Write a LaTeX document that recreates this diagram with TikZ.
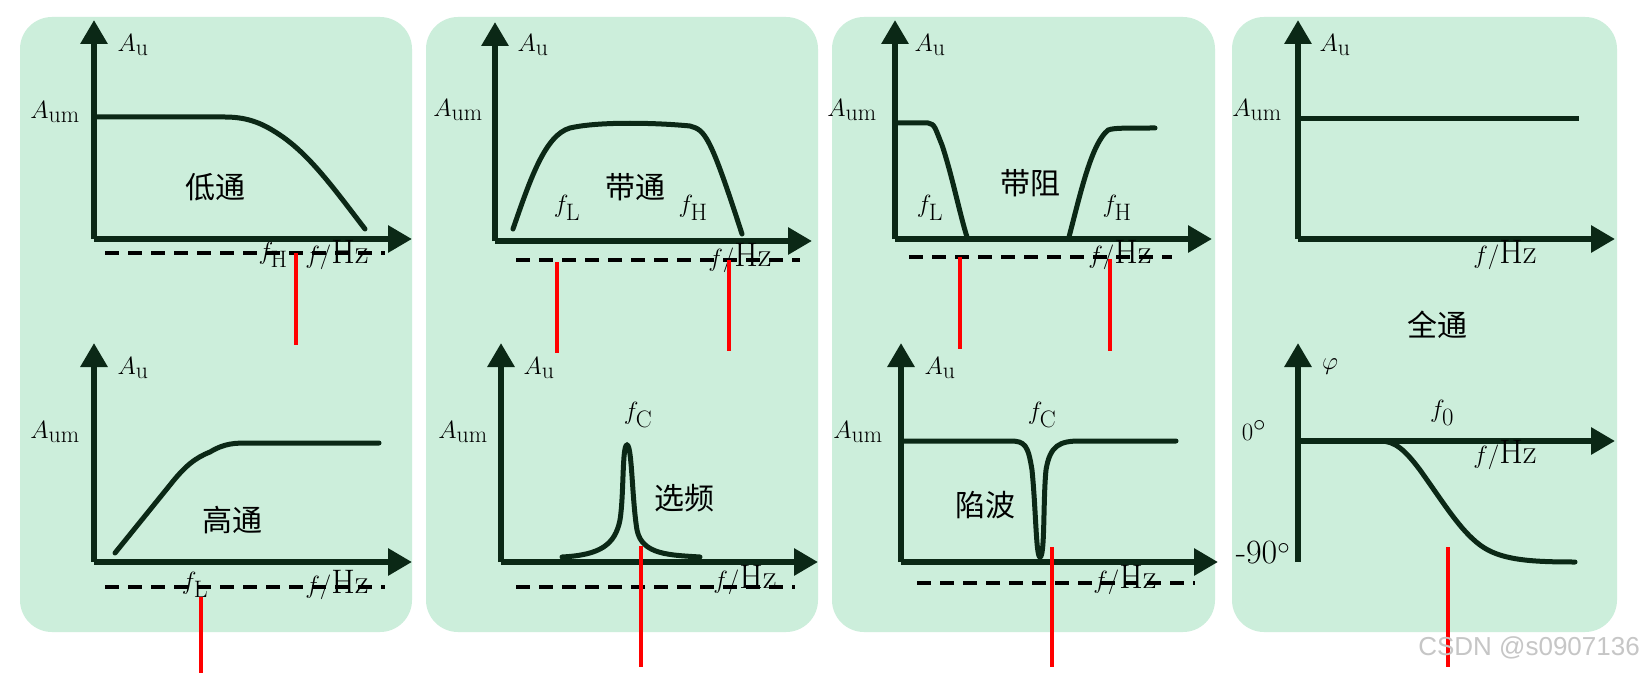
\documentclass[tikz,border=0pt]{standalone}
\usepackage{fontspec}
\newfontfamily\cjk{Noto Sans CJK SC}
\usetikzlibrary{arrows.meta}
\definecolor{pan}{HTML}{CCEEDB}
\definecolor{ink}{HTML}{0B2816}
\begin{document}
\begin{tikzpicture}[x=1pt,y=-1pt,
 panel/.style={fill=pan,draw=none,rounded corners=32pt},
 ax/.style={ink,line width=6pt,-{Triangle[length=24pt,width=26pt]}},
 cur/.style={ink,line width=5pt,line cap=round},
 dsh/.style={black,line width=3.5pt,dash pattern=on 14pt off 9pt},
 rl/.style={red,line width=3.5pt},
 lab/.style={inner sep=0pt,font=\fontsize{34}{36}\selectfont},
 cn/.style={inner sep=0pt,font=\cjk\fontsize{30}{32}\selectfont}]
\useasboundingbox (0,0) rectangle (1644,674);
\fill[white] (0,0) rectangle (1644,674);
\path[panel] (20,17) rectangle (412,632);
\path[panel] (426,17) rectangle (818,632);
\path[panel] (832,17) rectangle (1215,632);
\path[panel] (1232,17) rectangle (1617,632);
% panel 1 top
\coordinate (o1) at (94,239);
\draw[ax] (o1) -- (94,20);
\draw[ax] (o1) -- (412,239);
\draw[cur] (94,117) -- (225,117) .. controls (250,117) and (265,125) .. (280,135) .. controls (310,155) and (335,190) .. (365,229);
\draw[dsh] (105,253) -- (385,253);
\node[lab] at (133,45) {$A_{\mathrm{u}}$};
\node[lab] at (55,112) {$A_{\mathrm{um}}$};
\node[cn] at (215,187) {低通};
\node[lab] at (273,255) {$f_{\mathrm{H}}$};
\node[lab] at (337,255) {$f/\mathrm{Hz}$};
\draw[rl] (296,253) -- (296,345);
% panel 1 bottom
\draw[ax] (94,562) -- (94,343);
\draw[ax] (94,562) -- (412,562);
\draw[cur] (115,553) -- (170,485) .. controls (185,466) and (195,458) .. (210,452) .. controls (225,443) and (235,443) .. (250,443) -- (379,443);
\draw[dsh] (105,587) -- (385,587);
\node[lab] at (133,368) {$A_{\mathrm{u}}$};
\node[lab] at (55,432) {$A_{\mathrm{um}}$};
\node[cn] at (232,520) {高通};
\node[lab] at (195,585) {$f_{\mathrm{L}}$};
\node[lab] at (337,585) {$f/\mathrm{Hz}$};
\draw[rl] (201,597) -- (201,673);
% panel 2 top
\draw[ax] (495,241) -- (495,22);
\draw[ax] (495,241) -- (812,241);
\draw[cur] (513,229) .. controls (530,180) and (545,135) .. (570,128) .. controls (600,121) and (660,123) .. (690,126) .. controls (705,130) and (710,135) .. (742,234);
\draw[dsh] (516,260) -- (800,260);
\node[lab] at (533,45) {$A_{\mathrm{u}}$};
\node[lab] at (458,110) {$A_{\mathrm{um}}$};
\node[cn] at (635,187) {带通};
\node[lab] at (567,208) {$f_{\mathrm{L}}$};
\node[lab] at (693,208) {$f_{\mathrm{H}}$};
\node[lab] at (740,258) {$f/\mathrm{Hz}$};
\draw[rl] (557,262) -- (557,353);
\draw[rl] (729,260) -- (729,351);
% panel 2 bottom
\draw[ax] (501,562) -- (501,343);
\draw[ax] (501,562) -- (818,562);
\draw[cur] (562,557) .. controls (600,555) and (615,545) .. (620,520) .. controls (624,495) and (622,445) .. (627,445) .. controls (632,445) and (632,500) .. (637,530) .. controls (642,555) and (670,555) .. (700,557);
\draw[dsh] (516,587) -- (795,587);
\node[lab] at (539,368) {$A_{\mathrm{u}}$};
\node[lab] at (463,432) {$A_{\mathrm{um}}$};
\node[lab] at (638,415) {$f_{\mathrm{C}}$};
\node[cn] at (684,498) {选频};
\node[lab] at (745,580) {$f/\mathrm{Hz}$};
\draw[rl] (641,546) -- (641,667);
% panel 3 top
\draw[ax] (895,239) -- (895,20);
\draw[ax] (895,239) -- (1212,239);
\draw[cur] (895,123) -- (928,123) .. controls (935,124) and (935,128) .. (942,145) .. controls (952,175) and (960,215) .. (967,237);
\draw[cur] (1069,237) .. controls (1080,195) and (1090,150) .. (1105,133) .. controls (1108,128) and (1112,128) .. (1155,128);
\draw[dsh] (909,257) -- (1172,257);
\node[lab] at (930,45) {$A_{\mathrm{u}}$};
\node[lab] at (852,110) {$A_{\mathrm{um}}$};
\node[cn] at (1030,183) {带阻};
\node[lab] at (930,208) {$f_{\mathrm{L}}$};
\node[lab] at (1117,208) {$f_{\mathrm{H}}$};
\node[lab] at (1120,255) {$f/\mathrm{Hz}$};
\draw[rl] (960,257) -- (960,349);
\draw[rl] (1110,259) -- (1110,351);
% panel 3 bottom
\draw[ax] (901,562) -- (901,343);
\draw[ax] (901,562) -- (1218,562);
\draw[cur] (901,441) -- (1010,441) .. controls (1025,441) and (1028,445) .. (1032,470) .. controls (1036,510) and (1036,557) .. (1040,557) .. controls (1045,557) and (1043,500) .. (1046,470) .. controls (1050,445) and (1060,441) .. (1080,441) -- (1176,441);
\draw[dsh] (917,583) -- (1195,583);
\node[lab] at (940,368) {$A_{\mathrm{u}}$};
\node[lab] at (858,432) {$A_{\mathrm{um}}$};
\node[lab] at (1042,415) {$f_{\mathrm{C}}$};
\node[cn] at (985,505) {陷波};
\node[lab] at (1125,580) {$f/\mathrm{Hz}$};
\draw[rl] (1052,547) -- (1052,667);
% panel 4 top
\draw[ax] (1298,239) -- (1298,20);
\draw[ax] (1298,239) -- (1615,239);
\draw[ink,line width=5pt] (1298,119) -- (1579,119);
\node[lab] at (1335,45) {$A_{\mathrm{u}}$};
\node[lab] at (1257,110) {$A_{\mathrm{um}}$};
\node[lab] at (1505,255) {$f/\mathrm{Hz}$};
\node[cn] at (1437,325) {全通};
% panel 4 bottom
\draw[ax] (1298,562) -- (1298,343);
\draw[ax] (1298,441) -- (1615,441);
\draw[cur] (1298,441) -- (1380,441) .. controls (1395,441) and (1405,450) .. (1420,470) .. controls (1445,505) and (1460,530) .. (1480,545) .. controls (1500,560) and (1530,562) .. (1575,562);
\node[lab] at (1330,367) {$\varphi$};
\node[lab] at (1442,413) {$f_0$};
\node[lab] at (1254,430) {$0^{\circ}$};
\node[lab] at (1263,553) {-90$^{\circ}$};
\node[lab] at (1505,455) {$f/\mathrm{Hz}$};
\draw[rl] (1448,547) -- (1448,667);
\node[anchor=east,inner sep=0pt,text=gray!45,font=\fontsize{26}{28}\selectfont\fontspec{Liberation Sans}] at (1640,648) {CSDN @s0907136};
\end{tikzpicture}
\end{document}
